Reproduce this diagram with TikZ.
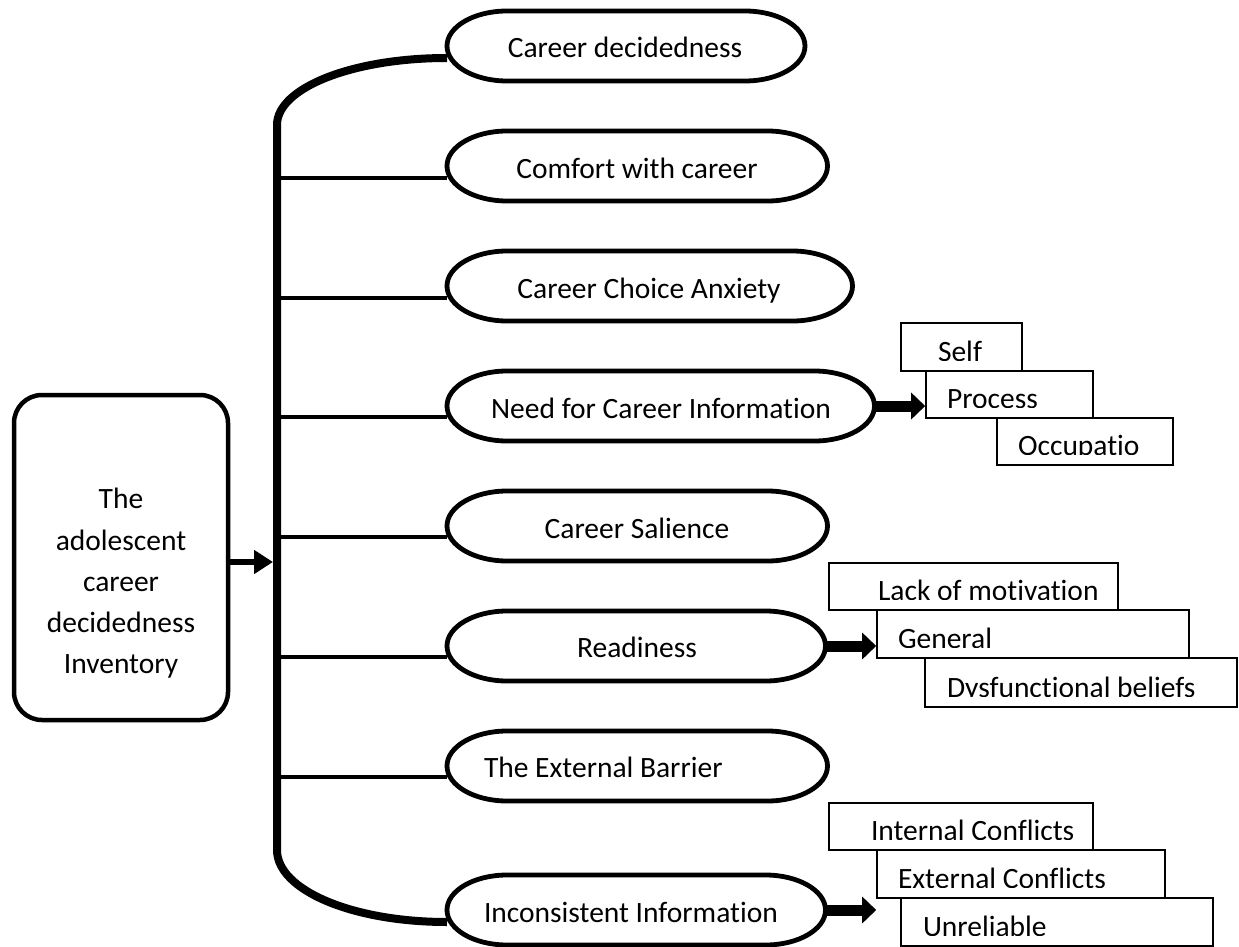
\documentclass[tikz,border=0pt]{standalone}
\usepackage{fontspec}
\setmainfont{Carlito}[Ligatures=NoCommon]
\usetikzlibrary{arrows.meta,calc}
\newcommand\mycapsule[4]{%
  \node[draw=none, inner sep=0pt, outer sep=0pt, minimum width={#3-#2}, minimum height=70] (#1) at ({(#2+#3)/2},#4) {};
  \draw[oval] ({#2+60},{#4-35}) -- ({#3-60},{#4-35})
    .. controls ({#3-26.9},{#4-35}) and (#3,{#4-19.3}) .. (#3,#4)
    .. controls (#3,{#4+19.3}) and ({#3-26.9},{#4+35}) .. ({#3-60},{#4+35})
    -- ({#2+60},{#4+35})
    .. controls ({#2+26.9},{#4+35}) and (#2,{#4+19.3}) .. (#2,#4)
    .. controls (#2,{#4-19.3}) and ({#2+26.9},{#4-35}) .. cycle;
}
\newcommand\mysub[7]{%
  \node[sub, minimum width={#4-#2}, minimum height={#5-#3}] (#1) at ({(#2+#4)/2},{(#3+#5)/2}) {};
  \begin{scope}
    \clip (#2,#3) rectangle (#4,{#5-11});
    \node[lbl, anchor=base west] (#1-t) at (#6,{#5-10}) {#7};
  \end{scope}
}
\begin{document}
\begin{tikzpicture}[x=1pt,y=-1pt,
  lbl/.style={inner sep=0pt, outer sep=0pt, font=\fontsize{29.5}{41.3}\selectfont},
  oval/.style={line width=4.8pt, fill=white},
  bigbox/.style={draw, line width=4.5pt, rounded corners=28pt, inner sep=0pt},
  sub/.style={draw, line width=1.6pt, fill=white, inner sep=0pt},
  busline/.style={line width=8pt},
  branch/.style={line width=4.5pt},
  feed/.style={line width=6pt, -{Triangle[length=19pt,width=23pt]}},
  fat/.style={line width=11pt, -{Triangle[length=14pt,width=26pt]}},
]
\fill[white] (0,0) rectangle (1239,947);
\useasboundingbox (0,0) rectangle (1239,947);

% connection points
\coordinate (c1) at (447,58);
\coordinate (c2) at (447,178);
\coordinate (c3) at (447,298);
\coordinate (c4) at (447,417);
\coordinate (c5) at (447,537);
\coordinate (c6) at (447,657);
\coordinate (c7) at (447,777);
\coordinate (c8) at (447,922);
\coordinate (bt) at (277,125);
\coordinate (bb) at (277,850);
\coordinate (feedpt) at (273,562);

% bus bracket
\draw[busline] (c1) .. controls (352,58) and (277,88) .. (bt) -- (bb)
  .. controls (277,890) and (352,922) .. (c8);
\foreach \i in {2,...,7} { \draw[branch] (c\i -| bt) -- (c\i); }

% left box
\node[bigbox, minimum width=214, minimum height=325] (inv) at (121,557.5) {};
\node[lbl, align=center] (invt) at (121,583.5) {The\\adolescent\\career\\decidedness\\Inventory};
\draw[feed] (inv.east |- feedpt) -- (feedpt);

% capsules
\mycapsule{e1}{447}{805}{46}
\mycapsule{e2}{447}{827.5}{166}
\mycapsule{e3}{447}{852.5}{286}
\mycapsule{e4}{447}{874.5}{406}
\mycapsule{e5}{447}{827.5}{526}
\mycapsule{e6}{447}{825.5}{646}
\mycapsule{e7}{447}{827.5}{766}
\mycapsule{e8}{447}{825.5}{910}

\node[lbl, anchor=base] (t1) at (625,58) {Career decidedness};
\node[lbl, anchor=base] (t2) at (637,178) {Comfort with career};
\node[lbl, anchor=base] (t3) at (649,298) {Career Choice Anxiety};
\node[lbl, anchor=base] (t4) at (661,418) {Need for Career Information};
\node[lbl, anchor=base] (t5) at (637,538) {Career Salience};
\node[lbl, anchor=base] (t6) at (637,657) {Readiness};
\node[lbl, anchor=base west] (t7) at (484,777) {The External Barrier};
\node[lbl, anchor=base west] (t8) at (484,922) {Inconsistent Information};

% sub boxes
\mysub{self}{901}{323}{1022}{371}{938}{Self}
\mysub{proc}{926}{371}{1093}{418}{947}{Process}
\mysub{occ}{997}{418}{1173}{465}{1018}{Occupatio}

\mysub{lack}{829}{563}{1118}{610}{878}{Lack of motivation}
\mysub{gen}{877}{610}{1189}{658}{898}{General}
\mysub{dys}{925}{658}{1237}{707}{947}{Dysfunctional beliefs}

\mysub{intc}{829}{803}{1093}{850}{871}{Internal Conflicts}
\mysub{extc}{877}{850}{1165}{898}{898}{External Conflicts}
\mysub{unr}{901}{898}{1213}{946}{923}{Unreliable}

% fat arrows
\draw[fat] (e4.east) -- (e4.east -| proc.west);
\draw[fat] (e6.east) -- (e6.east -| gen.west);
\draw[fat] (e8.east) -- (e8.east -| extc.west);
\end{tikzpicture}
\end{document}
